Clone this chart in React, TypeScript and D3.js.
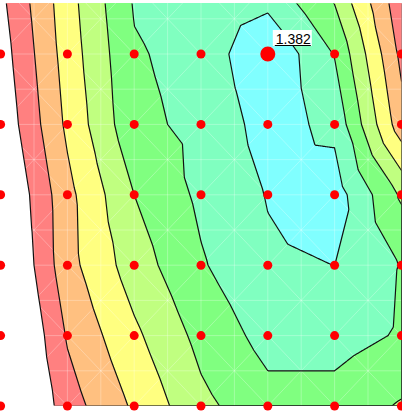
import React, { useMemo } from 'react';
import * as d3 from 'd3';

const W = 402;
const H = 417;

// grid indices (columns / rows of the measurement grid)
const columns = [0, 1, 2, 3, 4, 5, 6];
const rows = [0, 1, 2, 3, 4, 5, 6];

// measured values per grid row (row 0 lies just above the visible area)
const row0 = [-0.03, 0.53, 1.03, 1.11, 1.07, 0.72, 0.02];
const row1 = [-0.10, 0.49, 0.98, 1.07, 1.382, 0.99, 0.15];
const row2 = [-0.16, 0.44, 0.95, 1.05, 1.28, 1.15, 0.28];
const row3 = [-0.26, 0.34, 0.80, 1.04, 1.21, 1.30, 0.77];
const row4 = [-0.33, 0.33, 0.70, 0.98, 1.17, 1.201, 0.99];
const row5 = [-0.42, 0.22, 0.56, 0.86, 1.07, 1.08, 0.98];
const row6 = [-0.45, 0.11, 0.43, 0.75, 0.93, 0.92, 0.78];

const levels = [0, 0.2, 0.4, 0.6, 0.8, 1.0, 1.2];
const bandColors = ['#ff8080', '#ffc080', '#ffff80', '#c0ff80', '#80ff80', '#80ffc0', '#80ffff'];

const grid = [row0, row1, row2, row3, row4, row5, row6];

const xS = d3.scaleLinear().domain([0, 6]).range([0.6, 401.4]);
const yS = d3.scaleLinear().domain([0, 6]).range([-16.4, 406]);

function fieldAt(px: number, py: number): number {
  const u = xS.invert(px);
  const v = yS.invert(py);
  const i = Math.min(5, Math.max(0, Math.floor(u)));
  const j = Math.min(5, Math.max(0, Math.floor(v)));
  const fu = Math.min(1, Math.max(0, u - i));
  const fv = Math.min(1, Math.max(0, v - j));
  const a = grid[j][i], b = grid[j][i + 1], c = grid[j + 1][i], d = grid[j + 1][i + 1];
  const m = (a + b + c + d) / 4;
  if (fv <= fu && fv <= 1 - fu) {
    return a * (1 - fu - fv) + b * (fu - fv) + m * 2 * fv;
  } else if (fv >= fu && fv >= 1 - fu) {
    return c * (fv - fu) + d * (fu + fv - 1) + m * 2 * (1 - fv);
  } else if (fu < fv) {
    return a * (1 - fu - fv) + c * (fv - fu) + m * 2 * fu;
  } else {
    return b * (fu - fv) + d * (fu + fv - 1) + m * 2 * (1 - fu);
  }
}

export default function App() {
  const { fills, peak } = useMemo(() => {
    const x0 = -0.5, y0 = -17.5, s = 1;
    const nx = 403, ny = 424;
    const vals = new Float64Array(nx * ny);
    for (let j = 0; j < ny; j++) {
      for (let i = 0; i < nx; i++) {
        vals[j * nx + i] = fieldAt(x0 + i * s, y0 + j * s);
      }
    }
    const cs = d3.contours().size([nx, ny]).thresholds(levels)(Array.from(vals));
    const tr = d3.geoTransform({
      point(x: number, y: number) {
        (this as any).stream.point(x0 + (x - 0.5) * s, y0 + (y - 0.5) * s);
      },
    });
    const path = d3.geoPath(tr);
    const fills = cs.map((c, k) => ({ d: path(c as any) || '', color: bandColors[k] }));
    let best = { v: -Infinity, i: 0, j: 0 };
    grid.forEach((r, j) => r.forEach((v, i) => { if (v > best.v) best = { v, i, j }; }));
    return { fills, peak: best };
  }, []);

  // mesh lines (cell edges, mid lines and diagonals)
  const mesh: string[] = [];
  const half = d3.range(0, 6.01, 0.5);
  half.forEach((t) => {
    mesh.push(`M${xS(t)},${yS(0)}V${yS(6)}`);
    mesh.push(`M${xS(0)},${yS(t)}H${xS(6)}`);
  });
  for (let j = 0; j < 6; j++) {
    for (let i = 0; i < 6; i++) {
      mesh.push(`M${xS(i)},${yS(j)}L${xS(i + 1)},${yS(j + 1)}`);
      mesh.push(`M${xS(i + 1)},${yS(j)}L${xS(i)},${yS(j + 1)}`);
    }
  }

  const px = xS(peak.i);
  const py = yS(peak.j);

  return (
    <svg width={W} height={H} style={{ position: 'absolute', left: 0, top: 0, background: '#fff' }}>
      <defs>
        <clipPath id="fillClip">
          <rect x={0} y={3} width={W} height={403} />
        </clipPath>
        <clipPath id="lineClip">
          <rect x={0} y={3.5} width={401.4} height={401.9} />
        </clipPath>
      </defs>
      <g clipPath="url(#fillClip)">
        {fills.map((f, k) => (
          <path key={k} d={f.d} fill={f.color} stroke="none" />
        ))}
        <path d={mesh.join('')} stroke="#ffffff" strokeOpacity={0.28} strokeWidth={1} fill="none" />
      </g>
      <g clipPath="url(#lineClip)">
        {fills.map((f, k) => (
          <path key={k} d={f.d} fill="none" stroke="#111" strokeWidth={1.2} />
        ))}
      </g>
      <g>
        {rows.slice(1).map((j) =>
          columns.map((i) => (
            <circle key={`${i}-${j}`} cx={xS(i)} cy={yS(j)} r={i === peak.i && j === peak.j ? 7.5 : 4.5} fill="#ff0000" />
          ))
        )}
      </g>
      <g>
        <rect x={px + 5} y={py - 24} width={39} height={16} fill="#ffffff" />
        <text x={px + 8} y={py - 10.5} fontSize={14} fontFamily="'Liberation Sans', Arial, sans-serif" fill="#000">
          {peak.v.toFixed(3)}
        </text>
        <line x1={px + 7} x2={px + 43} y1={py - 8.5} y2={py - 8.5} stroke="#000" strokeWidth={1} />
      </g>
    </svg>
  );
}
